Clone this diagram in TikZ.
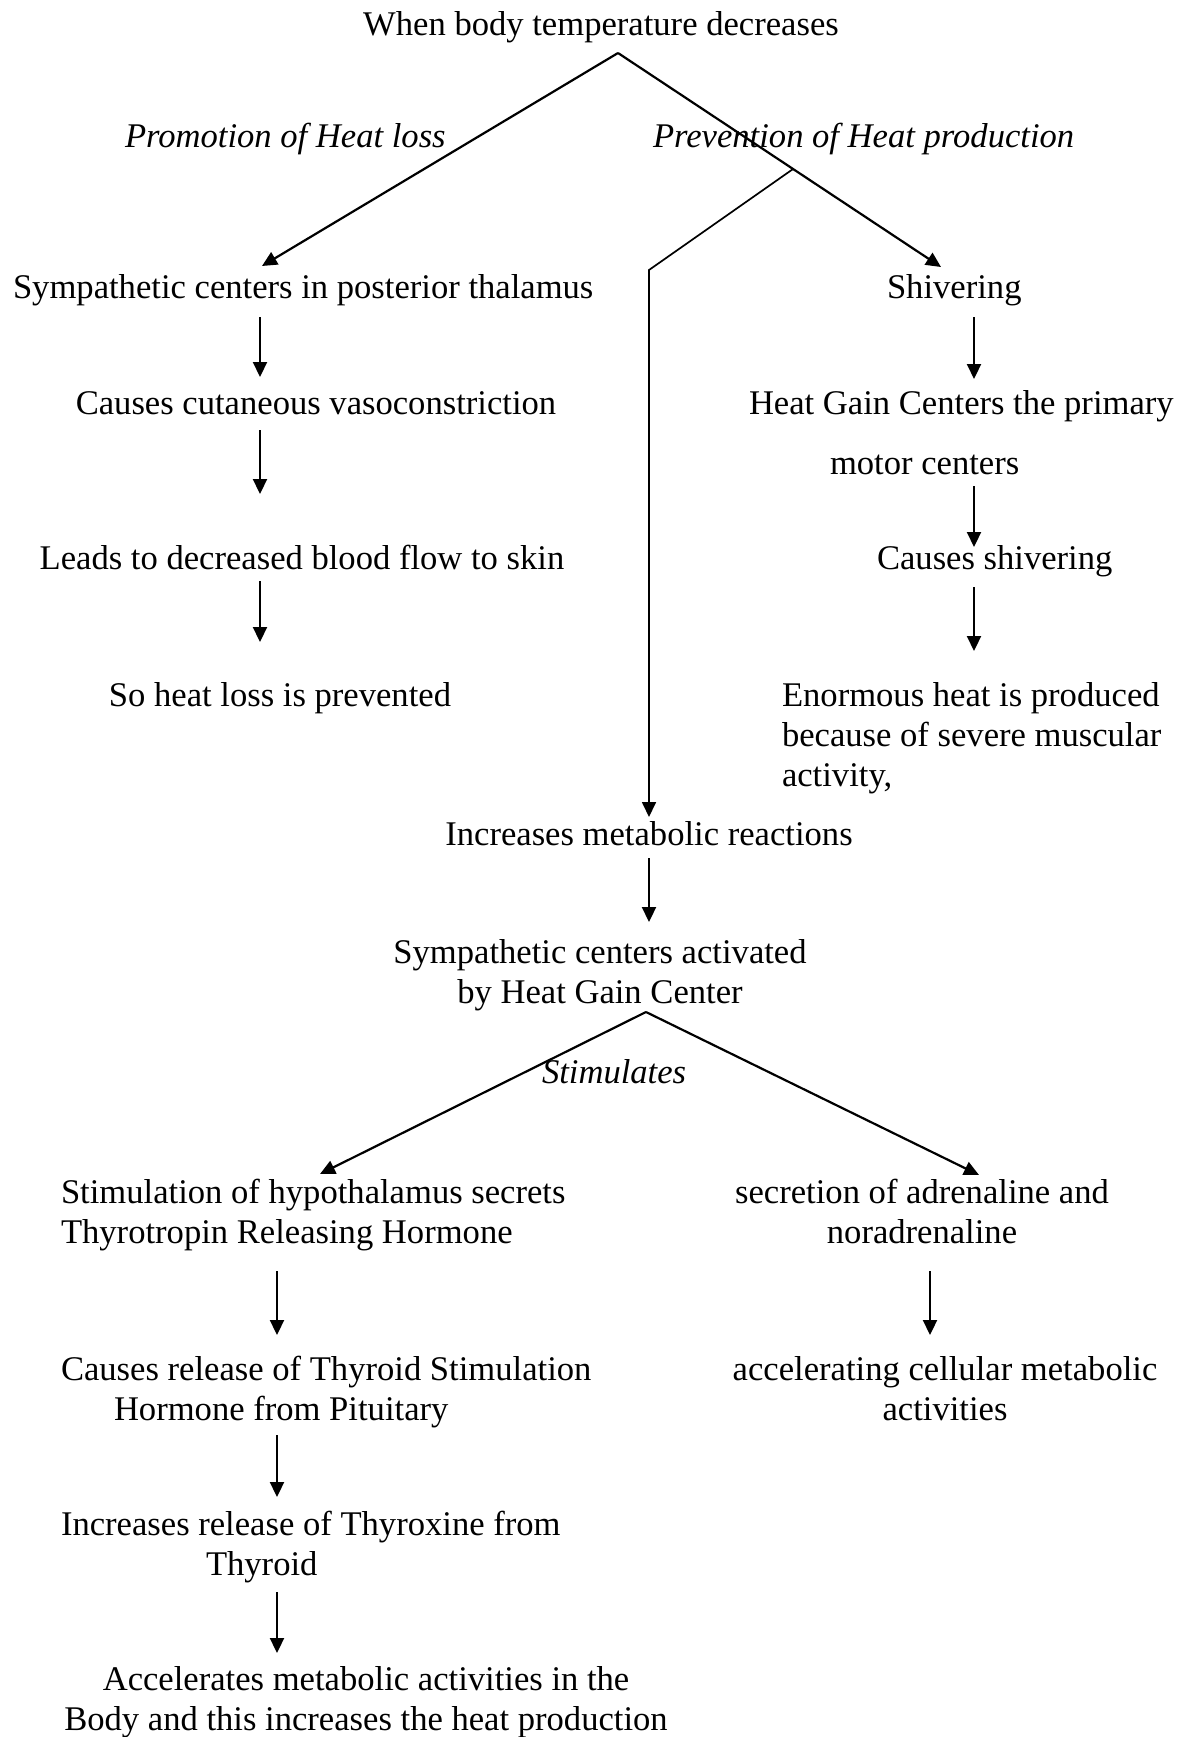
\documentclass[tikz,border=0pt]{standalone}
\usepackage{fontspec}
\setmainfont{Liberation Serif}
\usetikzlibrary{arrows.meta}
% text blocks: first baseline is the node's baseline, rows carry struts
\newcommand{\ctext}[1]{\begin{tabular}[t]{@{}c@{}}#1\end{tabular}}
\newcommand{\ltext}[1]{\begin{tabular}[t]{@{}l@{}}#1\end{tabular}}
\begin{document}
\begin{tikzpicture}[x=1pt, y=-1pt,
  txt/.style={font=\fontsize{34.6}{40}\selectfont, inner sep=0pt, outer sep=0pt},
  lbl/.style={txt, font=\fontsize{34.6}{40}\selectfont\itshape},
  flow/.style={line width=2.2pt, -{Triangle[length=15pt,width=14pt]}},
  branch/.style={flow, line width=1.7pt},
]
\fill[white] (0,0) rectangle (1184,1737);
\useasboundingbox (0,0) rectangle (1184,1737);

% ---- text blocks ----
\node[txt, anchor=base] (top) at (601,36) {\ctext{When body temperature decreases}};
\node[lbl, anchor=base west] (phl) at (125,147) {Promotion of Heat loss};
\node[lbl, anchor=base west] (php) at (653,147) {Prevention of Heat production};

\node[txt, anchor=base west] (sct) at (13,298) {\ltext{Sympathetic centers in posterior thalamus}};
\node[txt, anchor=base west] (shv) at (887,298) {\ltext{Shivering}};
\node[txt, anchor=base] (ccv) at (316,414) {\ctext{Causes cutaneous vasoconstriction}};
\node[txt, anchor=base west] (hgc) at (749,414) {\ltext{Heat Gain Centers the primary\\[20pt]\hspace*{81pt}motor centers}};
\node[txt, anchor=base] (ldb) at (302,569) {\ctext{Leads to decreased blood flow to skin}};
\node[txt, anchor=base west] (csh) at (877,569) {\ltext{Causes shivering}};
\node[txt, anchor=base] (shl) at (280,706) {\ctext{So heat loss is prevented}};
\node[txt, anchor=base west] (enh) at (782,706) {\ltext{Enormous heat is produced\\because of severe muscular\\activity,}};

\node[txt, anchor=base] (imr) at (649,845) {\ctext{Increases metabolic reactions}};
\node[txt, anchor=base] (sca) at (600,963) {\ctext{Sympathetic centers activated\\by Heat Gain Center}};
\node[lbl, anchor=base west] (stl) at (542,1083) {Stimulates};

\node[txt, anchor=base west] (soh) at (61,1203) {\ltext{Stimulation of hypothalamus secrets\\Thyrotropin Releasing Hormone}};
\node[txt, anchor=base] (sad) at (922,1203) {\ctext{secretion of adrenaline and\\noradrenaline}};
\node[txt, anchor=base west] (crt) at (61,1380) {\ltext{Causes release of Thyroid Stimulation\\\hspace*{53pt}Hormone from Pituitary}};
\node[txt, anchor=base] (acm) at (945,1380) {\ctext{accelerating cellular metabolic\\activities}};
\node[txt, anchor=base west] (irt) at (61,1535) {\ltext{Increases release of Thyroxine from\\\hspace*{145pt}Thyroid}};
\node[txt, anchor=base] (amb) at (366,1690) {\ctext{Accelerates metabolic activities in the\\Body and this increases the heat production}};

% ---- split points and arrow columns ----
\coordinate (ap1) at (618,53);
\coordinate (ap2) at (646,1012);
\coordinate (colL) at (260,0);
\coordinate (colR) at (974,0);
\coordinate (colLL) at (277,0);
\coordinate (colLR) at (930,0);

% ---- first split ----
\draw[flow] (ap1) -- ([shift={(249,-4)}]sct.north west);
\draw[flow] (ap1) -- ([shift={(54,-3)}]shv.north west);
\path (ap1) -- ([shift={(54,-3)}]shv.north west) coordinate[pos=0.542] (br1);
\draw[branch] (br1) -- (imr.north |- sct.north) -- (imr.north);

% ---- left chain ----
\draw[flow, shorten <=7pt, shorten >=9pt] (sct.south -| colL) -- (ccv.north -| colL);
\draw[flow, shorten <=4pt, shorten >=47pt] (ccv.south -| colL) -- (ldb.north -| colL);
\draw[flow, shorten >=36pt] (ldb.south -| colL) -- (shl.north -| colL);

% ---- right chain ----
\draw[flow, shorten <=7pt, shorten >=7pt] (shv.south -| colR) -- (hgc.north -| colR);
\draw[flow, shorten >=-6pt] (hgc.south -| colR) -- (csh.north -| colR);
\draw[flow, shorten <=6pt, shorten >=27pt] (csh.south -| colR) -- (enh.north -| colR);

% ---- middle ----
\draw[flow, shorten <=1pt, shorten >=13pt] (imr.south) -- (imr.south |- sca.north);

% ---- second split ----
\draw[flow] (ap2) -- ([shift={(259,-1)}]soh.north west);
\draw[flow] (ap2) -- ([shift={(57,0)}]sad.north);

\draw[flow, shorten <=16pt, shorten >=17pt] (soh.south -| colLL) -- (crt.north -| colLL);
\draw[flow, shorten <=3pt, shorten >=10pt] (crt.south -| colLL) -- (irt.north -| colLL);
\draw[flow, shorten <=5pt, shorten >=9pt] (irt.south -| colLL) -- (amb.north -| colLL);
\draw[flow, shorten <=16pt, shorten >=17pt] (sad.south -| colLR) -- (acm.north -| colLR);
\end{tikzpicture}
\end{document}
